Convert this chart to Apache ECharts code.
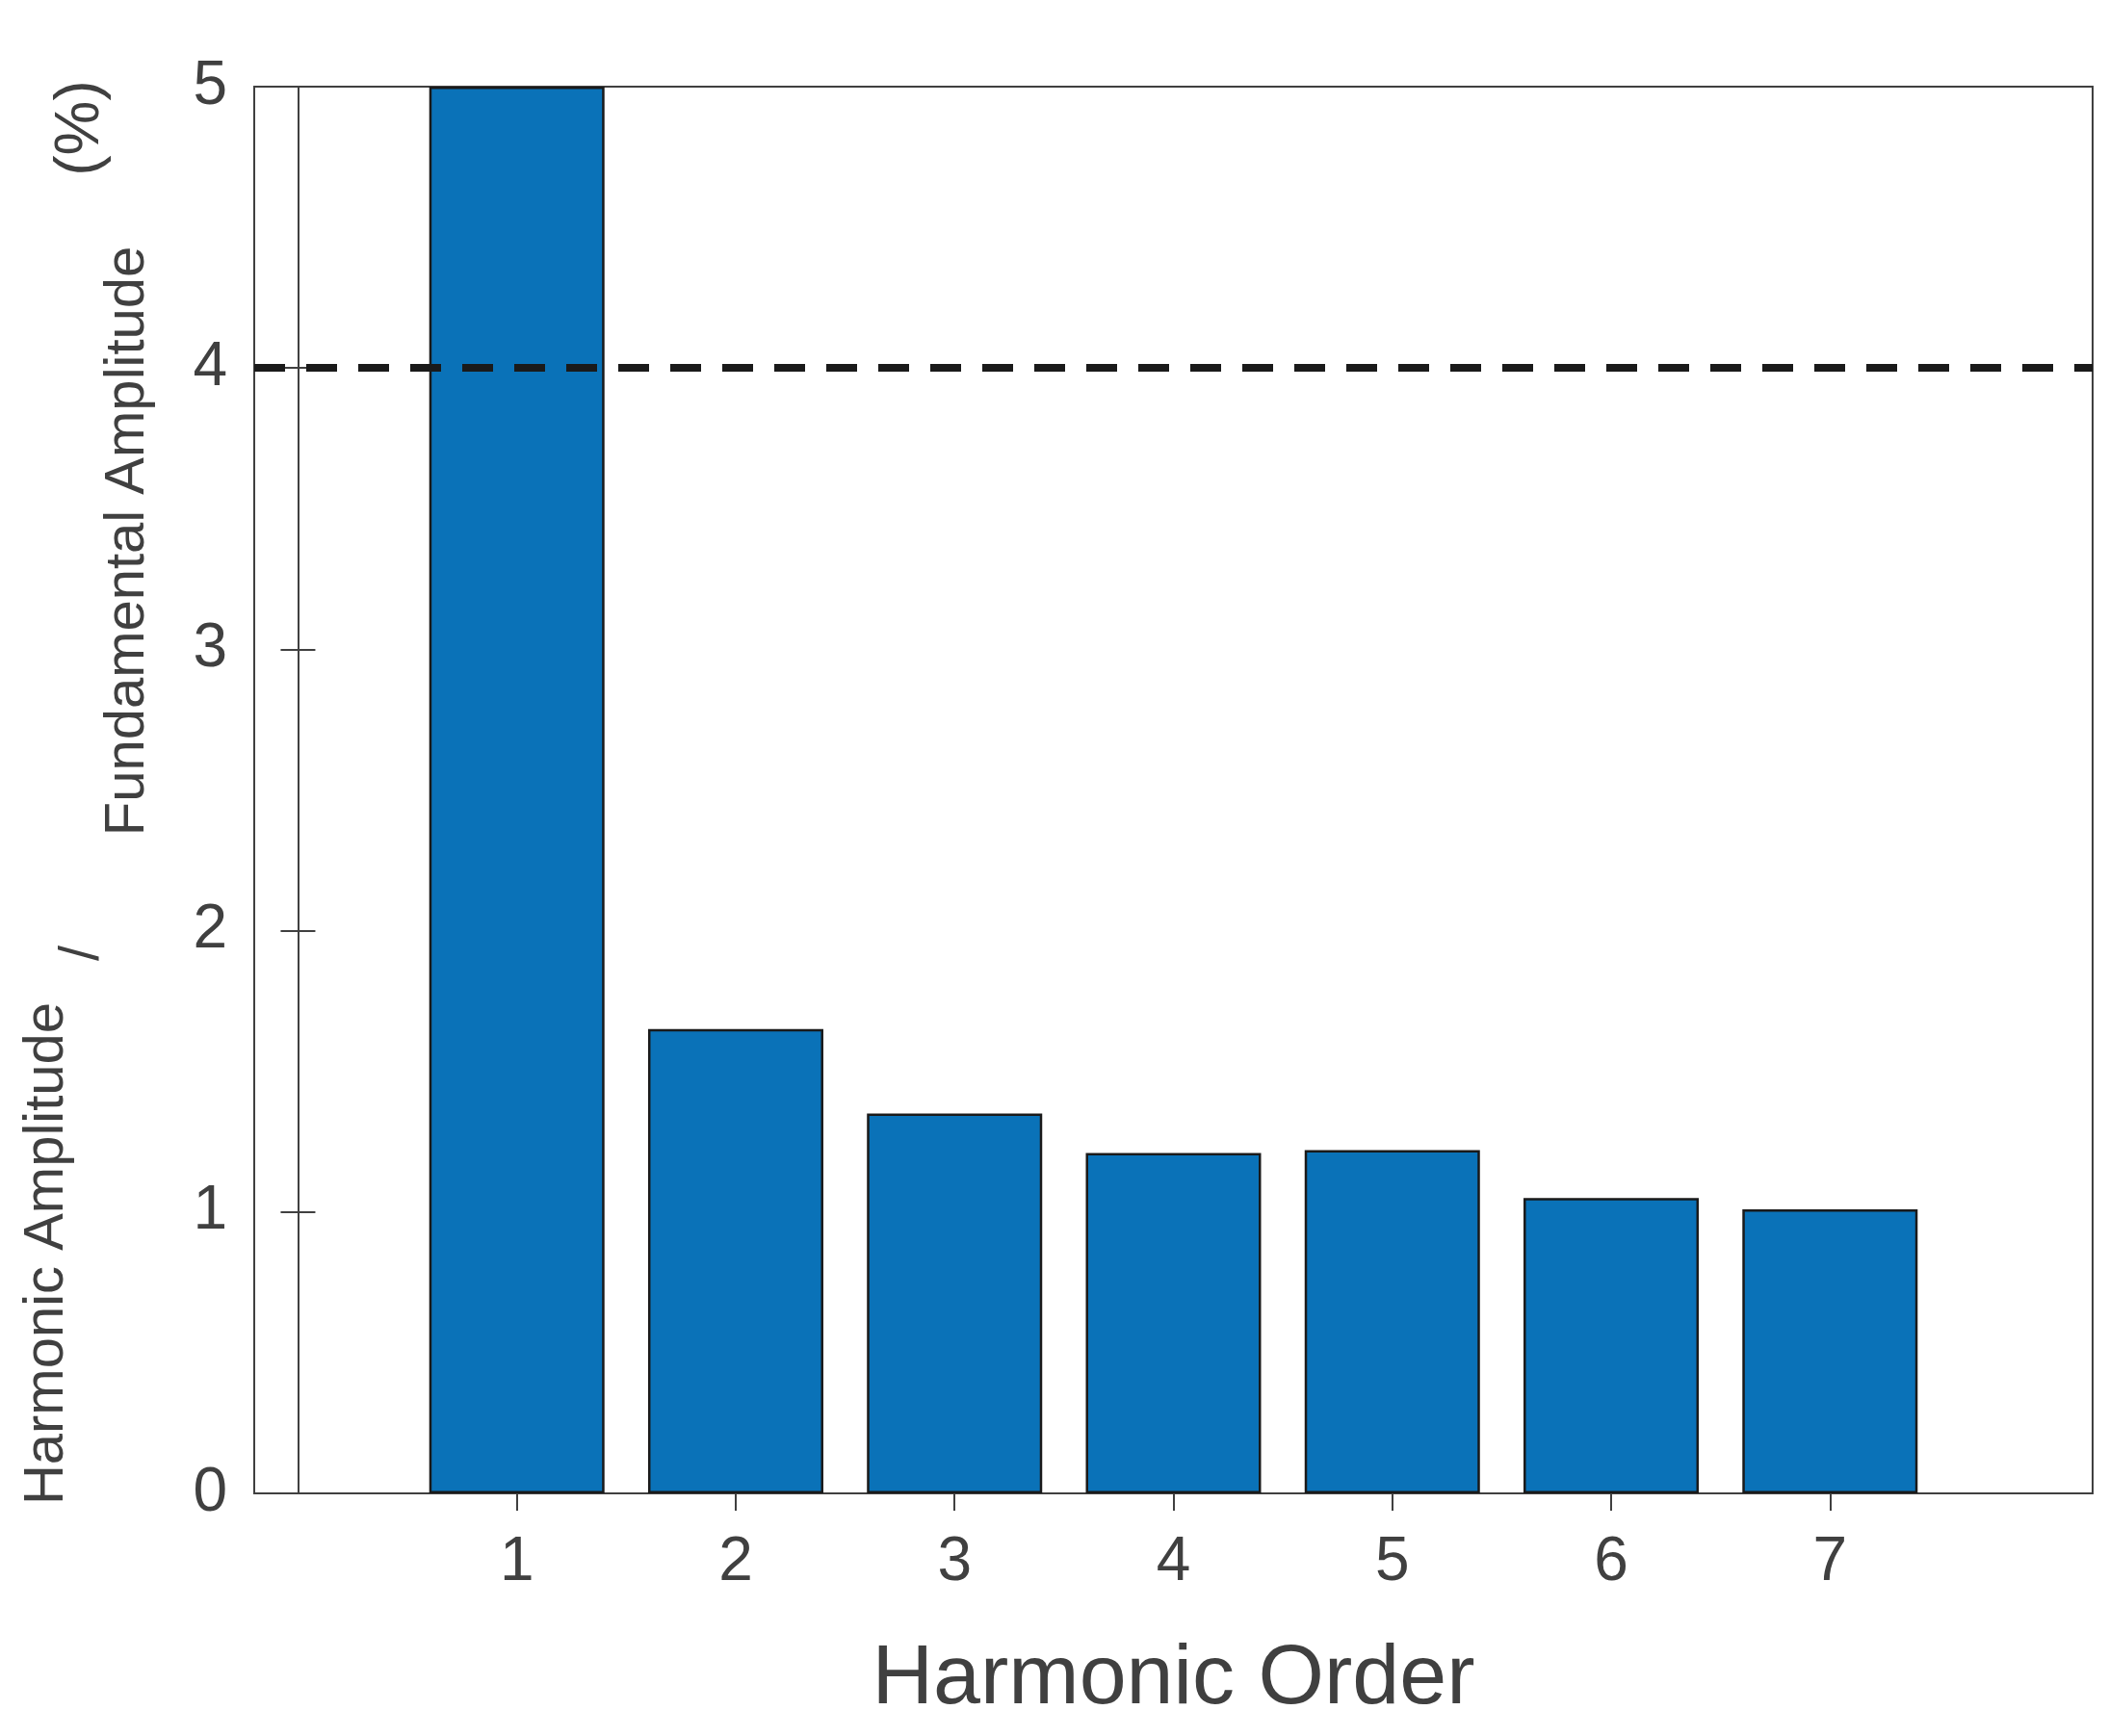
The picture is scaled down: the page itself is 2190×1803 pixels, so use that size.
<!DOCTYPE html>
<html>
<head>
<meta charset="utf-8">
<script src="https://cdn.jsdelivr.net/npm/echarts@6/dist/echarts.min.js"></script>
<style>html,body{margin:0;padding:0;background:#fff}#chart{width:2190px;height:1803px}</style>
</head>
<body>
<div id="chart"></div>
<script>
var orders = [1, 2, 3, 4, 5, 6, 7];
var amplitudes = [5, 1.65, 1.35, 1.21, 1.22, 1.05, 1.01];
var yTicks = [0, 1, 2, 3, 4, 5];
var limitValue = 4;

var chart = echarts.init(document.getElementById('chart'));
var font = 'Liberation Sans, Arial, sans-serif';
var ink = '#404040';

var option = {
    animation: false,
    grid: { left: 264, right: 17, top: 90, bottom: 252, show: true, borderColor: ink, borderWidth: 2 },
    xAxis: [{
        type: 'value', min: -0.2, max: 8.2,
        name: 'Harmonic Order', nameLocation: 'middle', nameGap: 150,
        nameTextStyle: { fontSize: 88, color: ink, fontFamily: font },
        axisLine: { show: true, lineStyle: { color: ink, width: 2 } },
        axisTick: { show: true, inside: true, length: 18, customValues: orders, lineStyle: { color: ink, width: 2 } },
        axisLabel: { customValues: orders, fontSize: 64, color: ink, fontFamily: font, margin: 40 },
        splitLine: { show: false }
    }, {
        type: 'value', min: -0.2, max: 8.2, position: 'top',
        axisLine: { show: false },
        axisTick: { show: true, inside: true, length: 18, customValues: orders, lineStyle: { color: ink, width: 2 } },
        axisLabel: { show: false }, splitLine: { show: false }
    }],
    yAxis: [{
        type: 'value', min: 0, max: 5, interval: 1,
        axisLine: { show: true, lineStyle: { color: ink, width: 2 } },
        axisTick: { show: true, inside: true, length: 18, lineStyle: { color: ink, width: 2 } },
        axisLabel: { fontSize: 64, color: ink, fontFamily: font, margin: 28 },
        splitLine: { show: false }
    }, {
        type: 'value', min: 0, max: 5, interval: 1, position: 'right',
        axisLine: { show: false },
        axisTick: { show: true, inside: true, length: 18, lineStyle: { color: ink, width: 2 } },
        axisLabel: { show: false }, splitLine: { show: false }
    }],
    series: [{
        type: 'bar',
        data: orders.map(function (o, i) { return [o, amplitudes[i]]; }),
        barWidth: 182,
        itemStyle: { color: '#0a72b8', borderColor: '#1a1a1a', borderWidth: 2.5 },
        markLine: {
            silent: true, symbol: 'none',
            lineStyle: { color: '#1a1a1a', width: 8, type: [32, 22] },
            label: { show: false },
            data: [{ yAxis: limitValue }]
        },
        markPoint: {
            symbol: 'none',
            label: { show: true, formatter: '\u2248', fontSize: 150, fontWeight: 'bold', color: '#1a1a1a', fontFamily: 'DejaVu Serif, serif' },
            data: [{ coord: [1.05, 4.6] }]
        }
    }],
    graphic: [
        { type: 'text', x: 49, y: 1302, rotation: Math.PI / 2, style: { text: 'Harmonic Amplitude', fontSize: 58, fill: ink, fontFamily: font, align: 'center', verticalAlign: 'middle' } },
        { type: 'text', x: 86, y: 990, rotation: Math.PI / 2, style: { text: '/', fontSize: 58, fill: ink, fontFamily: font, align: 'center', verticalAlign: 'middle' } },
        { type: 'text', x: 133, y: 562, rotation: Math.PI / 2, style: { text: 'Fundamental Amplitude', fontSize: 58, fill: ink, fontFamily: font, align: 'center', verticalAlign: 'middle' } },
        { type: 'text', x: 84, y: 133, rotation: Math.PI / 2, style: { text: '(%)', fontSize: 64, fill: ink, fontFamily: font, align: 'center', verticalAlign: 'middle' } }
    ]
};
chart.setOption(option);
</script>
</body>
</html>
